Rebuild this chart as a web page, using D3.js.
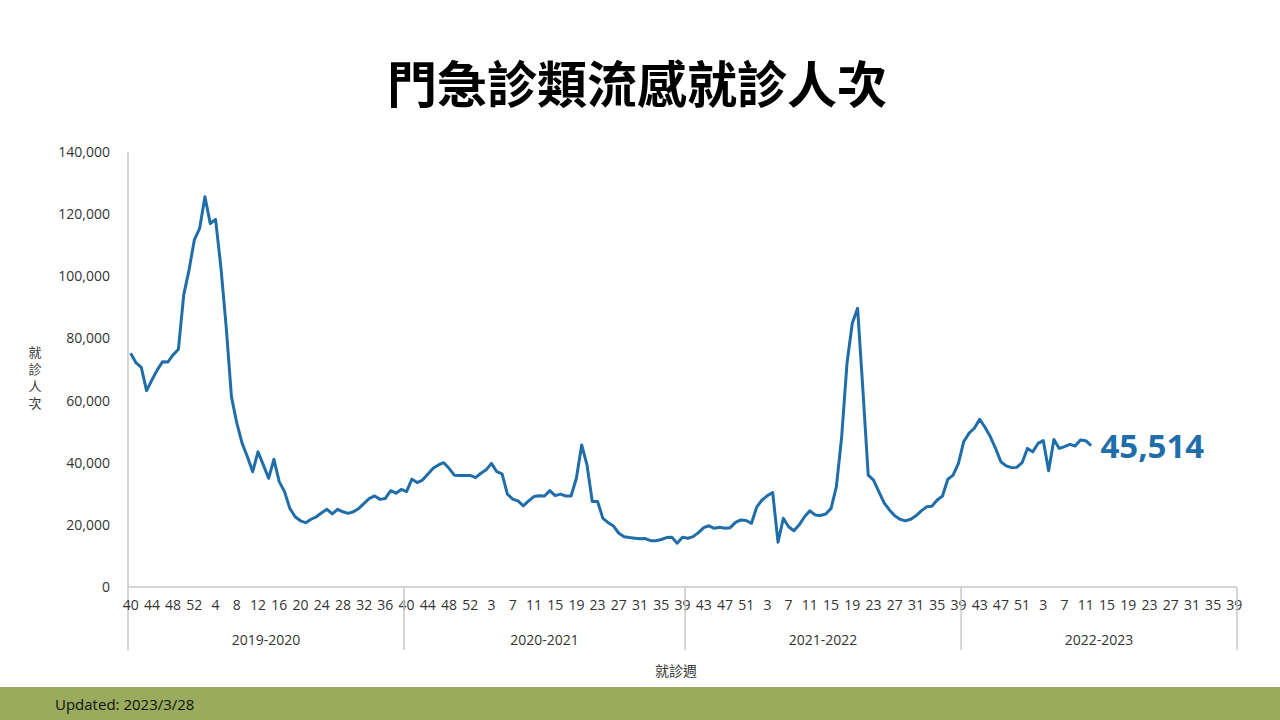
<!DOCTYPE html>
<html><head><meta charset="utf-8">
<script src="https://cdn.jsdelivr.net/npm/d3@7"></script>
<style>
body{margin:0;background:#fff;font-family:"Open Sans","Noto Sans CJK TC",sans-serif;}
</style></head><body>
<div id="chart"></div>
<script>
// seasons and their week lists
var seasons = ["2019-2020", "2020-2021", "2021-2022", "2022-2023"];
var seasonWeeks = [52, 53, 52, 52];

// weekly visits, one array per season
var s2019 = [75200,72200,70700,63200,66600,69800,72500,72400,74700,76500,94000,102000,111700,115400,125600,117000,118300,103000,83800,61200,52800,46300,41900,37100,43500,39300,35000,41100,33900,30700,25300,22600,21300,20700,21800,22600,23900,25000,23500,25000,24200,23700,24200,25300,26900,28500,29300,28200,28500,31000,30200,31400];
var s2020 = [30700,34700,33600,34400,36300,38200,39300,40000,38200,36000,35900,35900,35900,35200,36600,37700,39800,37100,36400,29900,28300,27700,26100,27700,29100,29400,29300,31000,29400,29900,29300,29300,35000,45700,39300,27500,27500,22100,20700,19600,17300,16200,15900,15700,15500,15600,14900,14900,15300,15900,16000,14100,16000];
var s2021 = [15700,16200,17500,19100,19700,18900,19200,18900,19100,20800,21600,21400,20500,25800,28000,29400,30400,14400,22100,19400,18100,20000,22600,24500,23200,23000,23500,25300,32300,48400,72000,84900,89700,63400,36000,34400,30700,27100,24800,22900,21800,21300,21800,22900,24500,25800,26000,28000,29300,34700,36000,39800];
var s2022 = [46800,49500,51100,54000,51400,48400,44600,40300,39000,38400,38500,40000,44600,43500,46200,47100,37400,47500,44600,45200,45900,45400,47300,47100,45514];

var yTicks = [0,20000,40000,60000,80000,100000,120000,140000];

// build categories (season, week)
var cats = [];
seasons.forEach(function(s, si) {
  for (var k = 0; k < seasonWeeks[si]; k++) {
    var w = k + 40;
    if (w > (si === 1 ? 53 : 52)) w = w - (si === 1 ? 53 : 52);
    cats.push({season: s, week: w, idx: cats.length});
  }
});
var allVals = s2019.concat(s2020, s2021, s2022);
var data = allVals.map(function(v, i) { return {i: i, v: v}; });

var svg = d3.select("#chart").append("svg").attr("width", 1280).attr("height", 720);

var x = d3.scaleBand().domain(cats.map(d => d.idx)).range([128, 1237]);
var y = d3.scaleLinear().domain([0, 140000]).range([587, 152]);

svg.append("text").attr("x", 637).attr("y", 103).attr("text-anchor", "middle")
  .attr("font-size", 50).attr("font-weight", 700)
  .attr("font-family", "'Noto Sans CJK TC',sans-serif")
  .text("門急診類流感就診人次");

// y axis
var yAxis = svg.append("g").attr("transform", "translate(128,0)")
  .call(d3.axisLeft(y).tickValues(yTicks).tickFormat(d3.format(",")).tickSize(0).tickPadding(18));
yAxis.select(".domain").remove();
yAxis.selectAll("text").attr("font-size", 14).attr("fill", "#333").attr("font-family", "'Open Sans',sans-serif");
svg.append("line").attr("x1", 128).attr("x2", 128).attr("y1", 152).attr("y2", 650)
  .attr("stroke", "#c8c8c8").attr("stroke-width", 1.5);

// x axis
svg.append("line").attr("x1", 128).attr("x2", 1237).attr("y1", 587).attr("y2", 587)
  .attr("stroke", "#c8c8c8").attr("stroke-width", 1.5);
var xAxis = svg.append("g").attr("transform", "translate(0,587)")
  .call(d3.axisBottom(x).tickValues(cats.filter(d => d.idx % 4 === 0).map(d => d.idx))
    .tickFormat(i => cats[i].week).tickSize(0).tickPadding(13));
xAxis.select(".domain").remove();
xAxis.selectAll("text").attr("font-size", 14).attr("fill", "#333").attr("font-family", "'Open Sans',sans-serif");

// season boundaries and labels
var start = 0;
seasons.forEach(function(s, si) {
  var x0 = x(start), x1 = x(start + seasonWeeks[si] - 1) + x.bandwidth();
  svg.append("line").attr("x1", x1).attr("x2", x1).attr("y1", 587).attr("y2", 650)
    .attr("stroke", "#c8c8c8").attr("stroke-width", 1.5);
  svg.append("text").attr("x", (x0 + x1) / 2).attr("y", 645).attr("text-anchor", "middle")
    .attr("font-size", 14).attr("fill", "#333").text(s);
  start += seasonWeeks[si];
});

// axis titles
["就", "診", "人", "次"].forEach(function(c, k) {
  svg.append("text").attr("x", 35).attr("y", 357 + k * 17).attr("text-anchor", "middle")
    .attr("font-size", 13).attr("fill", "#333")
    .attr("font-family", "'Noto Sans CJK TC',sans-serif").text(c);
});
svg.append("text").attr("x", 676).attr("y", 676).attr("text-anchor", "middle")
  .attr("font-size", 14).attr("fill", "#333")
  .attr("font-family", "'Noto Sans CJK TC',sans-serif").text("就診週");

// line
var line = d3.line().x(d => x(d.i) + x.bandwidth() / 2).y(d => y(d.v));
svg.append("path").datum(data).attr("d", line).attr("fill", "none")
  .attr("stroke", "#1f6eaa").attr("stroke-width", 3).attr("stroke-linejoin", "round");

var last = data[data.length - 1];
svg.append("text").attr("x", x(last.i) + 12).attr("y", y(last.v) + 12)
  .attr("font-size", 33).attr("font-weight", 700).attr("fill", "#1f6eaa")
  .attr("font-family", "'Open Sans',sans-serif").text(d3.format(",")(last.v));

// footer
svg.append("rect").attr("x", 0).attr("y", 687).attr("width", 1280).attr("height", 33).attr("fill", "#9aab5e");
svg.append("text").attr("x", 55).attr("y", 710).attr("font-size", 15).attr("fill", "#111").text("Updated: 2023/3/28");
</script>
</body></html>
